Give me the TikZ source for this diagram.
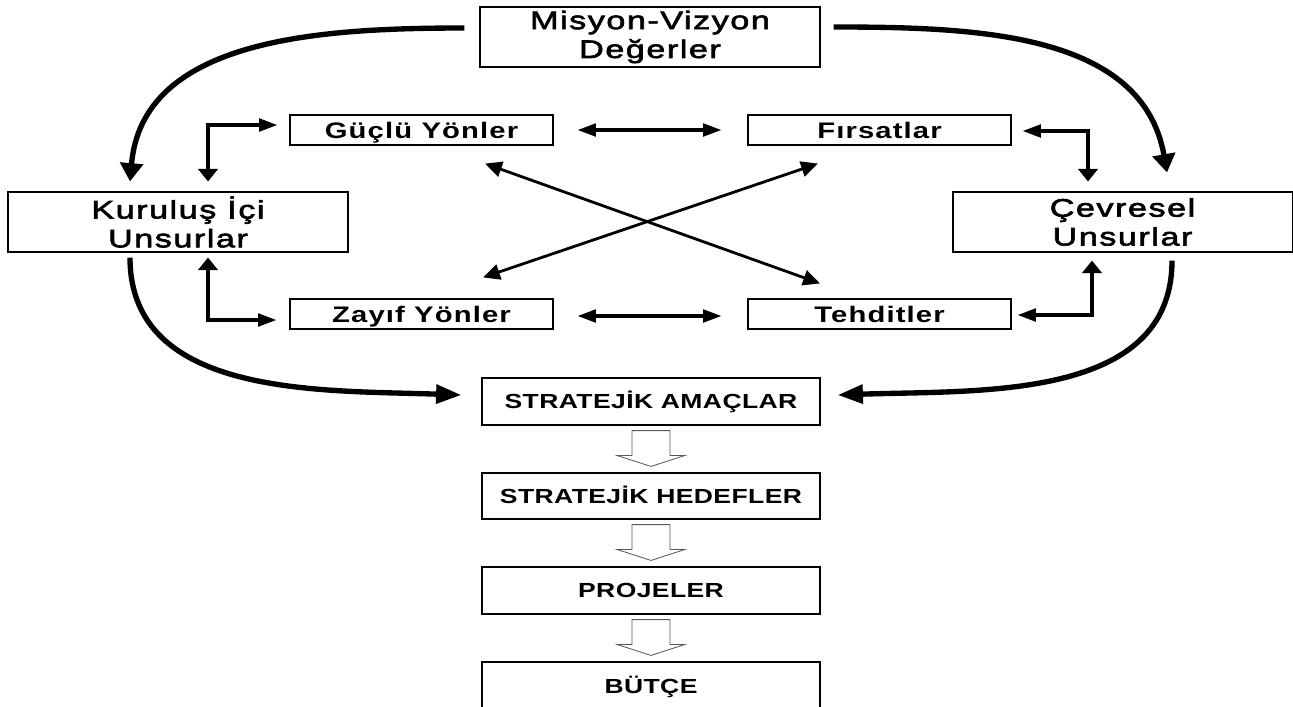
\documentclass[tikz,border=0pt]{standalone}
\usepackage{fontspec}
\setmainfont{Liberation Sans}
\newfontfamily\lblfont[FakeStretch=1.35,LetterSpace=6,FakeBold=2.5]{Liberation Sans}
\newfontfamily\boldfont[FakeStretch=1.3,LetterSpace=5]{Liberation Sans}
\newfontfamily\capfont[FakeStretch=1.3,LetterSpace=2]{Liberation Sans}
\usetikzlibrary{arrows.meta,calc}
\tikzset{
  bigbox/.style={draw, line width=0.8pt, inner sep=0pt, minimum width=8.5cm, minimum height=1.5cm, align=center, font=\lblfont\fontsize{18}{20.5}\selectfont},
  swotbox/.style={draw, line width=0.8pt, inner sep=0pt, minimum width=6.575cm, minimum height=0.75cm, text height=11.5pt, text depth=0pt, font=\boldfont\bfseries\fontsize{16}{18}\selectfont},
  planbox/.style={draw, line width=0.8pt, inner sep=0pt, minimum width=8.45cm, minimum height=1.175cm, text height=10.4pt, text depth=0pt, font=\capfont\bfseries\fontsize{14.5}{16}\selectfont},
  bigarr/.style={line width=3.8pt, -{Triangle[length=13pt,width=16pt]}},
  sidearr/.style={line width=3.8pt, -{Triangle[length=18pt,width=13pt]}},
  vharr/.style={line width=2.2pt, {Triangle[length=13pt,width=9pt]}-{Triangle[length=9pt,width=14pt]}},
  horarr/.style={line width=2.2pt, {Triangle[length=13pt,width=9pt]}-{Triangle[length=13pt,width=9pt]}},
  crossarr/.style={line width=2pt, {Triangle[length=12pt,width=11pt]}-{Triangle[length=12pt,width=11pt]}},
  blockarr/.style={draw=gray!70!black, line width=0.6pt, fill=white}
}
\begin{document}
\begin{tikzpicture}[x=0.025cm, y=0.025cm]
\useasboundingbox (0,0) rectangle (1293,-706);
% boxes
\node[bigbox] (misyon) at (650,-37) {Misyon-Vizyon\\Değerler};
\node[bigbox] (kurulus) at (178,-222) {Kuruluş İçi\\Unsurlar};
\node[bigbox, minimum width=8.475cm] (cevre) at (1122.5,-222) {Çevresel\\Unsurlar};
\node[swotbox] (guclu) at (421.5,-130) {Güçlü Yönler};
\node[swotbox] (firsat) at (879.5,-130) {Fırsatlar};
\node[swotbox] (zayif) at (421.5,-314) {Zayıf Yönler};
\node[swotbox] (tehdit) at (879.5,-314) {Tehditler};
\node[planbox] (amac) at (651,-401.5) {STRATEJİK AMAÇLAR};
\node[planbox, minimum height=1.15cm] (hedef) at (651,-496) {STRATEJİK HEDEFLER};
\node[planbox] (proje) at (651,-590.5) {PROJELER};
\node[planbox, minimum height=1.2cm] (butce) at (651,-686) {BÜTÇE};
% curved arrows
\draw[bigarr] ($(misyon.west)+(-15,9)$) to[out=180, in=85] ($(kurulus.north)+(-48,10)$);
\draw[bigarr] ($(misyon.east)+(13,10)$) to[out=0, in=100] ($(cevre.north)+(44.5,19)$);
\draw[sidearr] ($(kurulus.south)+(-48,-5)$) to[out=270, in=178] ($(amac.west)+(-20,6.5)$);
\draw[sidearr] ($(cevre.south)+(49.5,-8)$) to[out=270, in=2] ($(amac.east)+(17,6.5)$);
% elbow arrows
\draw[vharr] ($(guclu.west)+(-12,5)$) -| ($(kurulus.north)+(30,10)$);
\draw[vharr] ($(zayif.west)+(-13,-6)$) -| ($(kurulus.south)+(30,-5)$);
\draw[vharr] ($(firsat.east)+(11,-1)$) -| ($(cevre.north)+(-34.5,10)$);
\draw[vharr] ($(tehdit.east)+(6,-1)$) -| ($(cevre.south)+(-30.5,-8)$);
% straight arrows
\draw[horarr] ($(guclu.east)+(24,0)$) -- ($(firsat.west)+(-26,0)$);
\draw[horarr] ($(zayif.east)+(24,-2)$) -- ($(tehdit.west)+(-26,-2)$);
\draw[crossarr] ($(guclu.south)+(63.5,-18)$) -- ($(tehdit.north)+(-59.5,15)$);
\draw[crossarr] ($(firsat.south)+(-61.5,-18)$) -- ($(zayif.north)+(61.5,21)$);
% block arrows
\foreach \a/\b in {amac/hedef, hedef/proje, proje/butce} {
  \draw[blockarr] ($(\a.south)+(-19,-5)$) -- ($(\b.north)+(-19,17)$) -- ($(\b.north)+(-34,17)$)
    -- ($(\b.north)+(0,6)$) -- ($(\b.north)+(34,17)$) -- ($(\b.north)+(19,17)$)
    -- ($(\a.south)+(19,-5)$) -- cycle;
}
\end{tikzpicture}
\end{document}
